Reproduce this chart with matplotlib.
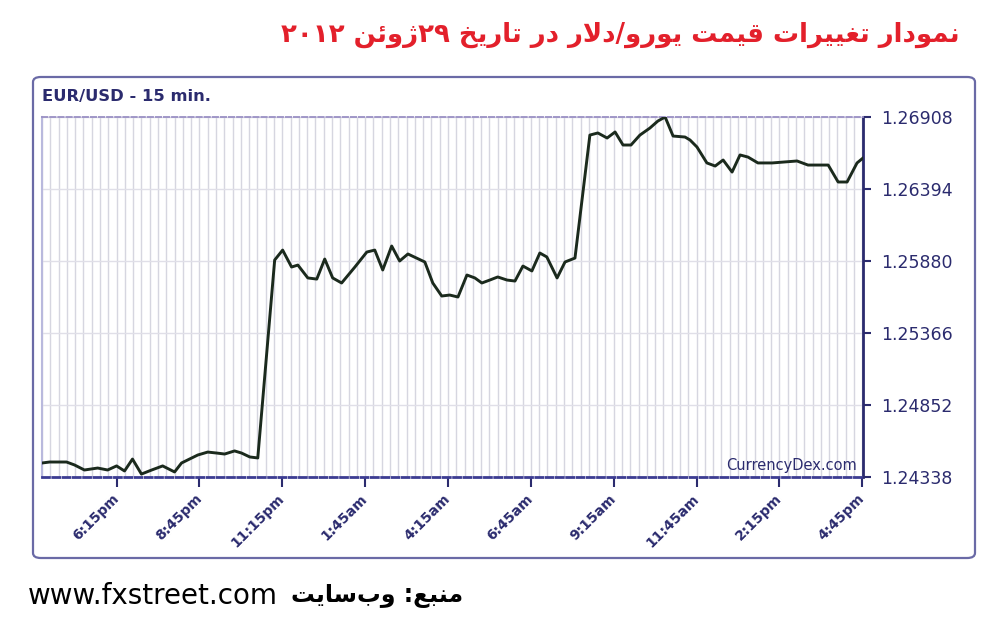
import re
import matplotlib
matplotlib.use('Agg')
import matplotlib.pyplot as plt
from matplotlib.patches import FancyBboxPatch
import numpy as np

# EUR/USD 15 min, 28-29 June 2012; hours counted from midnight 28 June
hours = np.array([
    16.00, 16.23, 16.74, 16.98, 17.28, 17.68, 17.98, 18.25, 18.49, 18.73,
    19.00, 19.31, 19.64, 20.00, 20.21, 20.39, 20.70, 21.00, 21.27, 21.51,
    21.81, 22.02, 22.27, 22.51, 23.02, 23.26, 23.53, 23.72, 24.02, 24.29,
    24.53, 24.77, 25.04, 25.44, 25.80, 26.04, 26.28, 26.55, 26.79, 27.04,
    27.55, 27.79, 28.06, 28.30, 28.55, 28.82, 29.06, 29.27, 29.51, 29.75,
    30.03, 30.27, 30.51, 30.78, 31.02, 31.23, 31.54, 31.78, 32.08, 32.53,
    32.77, 33.05, 33.29, 33.53, 33.77, 34.04, 34.34, 34.58, 34.80, 35.04,
    35.40, 35.55, 35.76, 36.06, 36.31, 36.55, 36.82, 37.06, 37.30, 37.60,
    38.03, 38.78, 39.11, 39.72, 40.02, 40.29, 40.59, 40.77
])
price = np.array([
    1.24438, 1.24445, 1.24445, 1.24424, 1.24388, 1.24402, 1.24388, 1.24417, 1.24381, 1.24466,
    1.24359, 1.24388, 1.24417, 1.24374, 1.24438, 1.24459, 1.24495, 1.24516, 1.24509, 1.24502,
    1.24524, 1.24509, 1.24481, 1.24474, 1.25887, 1.25958, 1.25837, 1.25851, 1.25759, 1.25751,
    1.25894, 1.25759, 1.25723, 1.25837, 1.25944, 1.25958, 1.25816, 1.25987, 1.25880, 1.25930,
    1.25873, 1.25723, 1.25630, 1.25637, 1.25623, 1.25780, 1.25759, 1.25723, 1.25744, 1.25766,
    1.25744, 1.25737, 1.25844, 1.25809, 1.25937, 1.25909, 1.25759, 1.25873, 1.25901, 1.26779,
    1.26794, 1.26758, 1.26801, 1.26708, 1.26708, 1.26779, 1.26829, 1.26879, 1.26908, 1.26772,
    1.26765, 1.26744, 1.26694, 1.26580, 1.26558, 1.26601, 1.26515, 1.26637, 1.26622, 1.26580,
    1.26580, 1.26594, 1.26565, 1.26565, 1.26444, 1.26444, 1.26580, 1.26615
])

xtick_pos = [18.25, 20.75, 23.25, 25.75, 28.25, 30.75, 33.25, 35.75, 38.25, 40.75]
xtick_labels = ['6:15pm', '8:45pm', '11:15pm', '1:45am', '4:15am',
                '6:45am', '9:15am', '11:45am', '2:15pm', '4:45pm']
ytick_pos = [1.24338, 1.24852, 1.25366, 1.25880, 1.26394, 1.26908]

title_fa = 'نمودار تغییرات قیمت یورو/دلار در تاریخ ۲۹ژوئن ۲۰۱۲'
source_fa = 'منبع: وب\u200cسایت'
source_url = 'www.fxstreet.com'

# matplotlib has no arabic shaping, so pick presentation forms by hand
FORMS = {
    'ا': ('\uFE8D', '\uFE8E', None, None),
    'ب': ('\uFE8F', '\uFE90', '\uFE91', '\uFE92'),
    'ت': ('\uFE95', '\uFE96', '\uFE97', '\uFE98'),
    'خ': ('\uFEA5', '\uFEA6', '\uFEA7', '\uFEA8'),
    'د': ('\uFEA9', '\uFEAA', None, None),
    'ر': ('\uFEAD', '\uFEAE', None, None),
    'ژ': ('\uFB8A', '\uFB8B', None, None),
    'س': ('\uFEB1', '\uFEB2', '\uFEB3', '\uFEB4'),
    'ع': ('\uFEC9', '\uFECA', '\uFECB', '\uFECC'),
    'غ': ('\uFECD', '\uFECE', '\uFECF', '\uFED0'),
    'ق': ('\uFED5', '\uFED6', '\uFED7', '\uFED8'),
    'ل': ('\uFEDD', '\uFEDE', '\uFEDF', '\uFEE0'),
    'م': ('\uFEE1', '\uFEE2', '\uFEE3', '\uFEE4'),
    'ن': ('\uFEE5', '\uFEE6', '\uFEE7', '\uFEE8'),
    'و': ('\uFEED', '\uFEEE', None, None),
    'ی': ('\uFBFC', '\uFBFD', '\uFBFE', '\uFBFF'),
    'ئ': ('\uFE89', '\uFE8A', '\uFE8B', '\uFE8C'),
}


def shape(s):
    out = []
    n = len(s)
    dual = lambda c: c in FORMS and FORMS[c][2] is not None
    i = 0
    while i < n:
        c = s[i]
        if c not in FORMS:
            if c != '\u200c':
                out.append(c)
            i += 1
            continue
        jp = i > 0 and dual(s[i - 1])
        if c == 'ل' and i + 1 < n and s[i + 1] == 'ا':
            out.append('\uFEFC' if jp else '\uFEFB')
            i += 2
            continue
        jn = dual(c) and i + 1 < n and s[i + 1] in FORMS
        iso, fin, ini, med = FORMS[c]
        if jp and jn:
            out.append(med)
        elif jp:
            out.append(fin)
        elif jn:
            out.append(ini)
        else:
            out.append(iso)
        i += 1
    return ''.join(out)


def rtl(s):
    v = shape(s)[::-1]
    return re.sub(r'[0-9۰-۹]+', lambda m: m.group(0)[::-1], v)


navy = '#2b2b6e'
fig = plt.figure(figsize=(9.81, 6.34), dpi=100)

frame = FancyBboxPatch((33 / 981, 1 - 558 / 634), 942 / 981, 481 / 634,
                       boxstyle='round,pad=0,rounding_size=0.008',
                       transform=fig.transFigure, facecolor='white',
                       edgecolor='#6a6aa6', linewidth=1.6, zorder=-1)
fig.patches.append(frame)

ax = fig.add_axes([42 / 981, 1 - 477 / 634, 821 / 981, 360 / 634])
ax.patch.set_alpha(0)
ax.plot(hours, price, color='#1b2a1d', linewidth=2.1, zorder=3)

ax.set_xlim(16.0, 40.77)
ax.set_ylim(1.24338, 1.26908)

ax.set_xticks(xtick_pos)
ax.set_xticklabels(xtick_labels, rotation=45, ha='right', va='center',
                   rotation_mode='anchor', color=navy, fontsize=10,
                   fontweight='bold')
ax.set_xticks(np.arange(16.0, 40.8, 0.25), minor=True)
ax.yaxis.tick_right()
ax.set_yticks(ytick_pos)
ax.set_yticklabels(['%.5f' % v for v in ytick_pos], color=navy, fontsize=12.5)

ax.tick_params(axis='x', which='major', direction='out', length=7, width=1.5,
               color=navy, pad=7)
ax.tick_params(axis='x', which='minor', length=0)
ax.tick_params(axis='y', direction='out', length=6, width=1.5, color=navy, pad=7)

ax.grid(axis='x', which='both', color='#d6d6e0', linewidth=1.0)
ax.grid(axis='y', which='major', color='#e0dfe8', linewidth=1.0)
ax.set_axisbelow(True)

ax.spines['right'].set_color(navy)
ax.spines['right'].set_linewidth(2)
ax.spines['left'].set_color('#b9b9dd')
ax.spines['left'].set_linewidth(1.5)
ax.spines['bottom'].set_color('#3c3c92')
ax.spines['bottom'].set_linewidth(2)
ax.spines['bottom'].set_linestyle((0, (2.5, 1.2)))
ax.spines['top'].set_color('#9a90c4')
ax.spines['top'].set_linewidth(1.3)
ax.spines['top'].set_linestyle((0, (3, 1.5)))

ax.text(0.993, 0.01, 'CurrencyDex.com', transform=ax.transAxes, ha='right',
        va='bottom', fontsize=10.5, color=navy)
fig.text(42 / 981, 1 - 97 / 634, 'EUR/USD - 15 min.', ha='left', va='center',
         fontsize=11.8, fontweight='bold', color=navy)

fig.text(960 / 981, 1 - 35 / 634, rtl(title_fa), ha='right', va='center',
         fontsize=18.7, fontweight='bold', color='#e3202b', family='DejaVu Sans')
fig.text(28 / 981, 1 - 596 / 634, source_url, ha='left', va='center',
         fontsize=20, color='black')
fig.text(463 / 981, 1 - 596 / 634, rtl(source_fa), ha='right', va='center',
         fontsize=17, fontweight='bold', color='black', family='DejaVu Sans')

fig.savefig('out.png', dpi=100)
